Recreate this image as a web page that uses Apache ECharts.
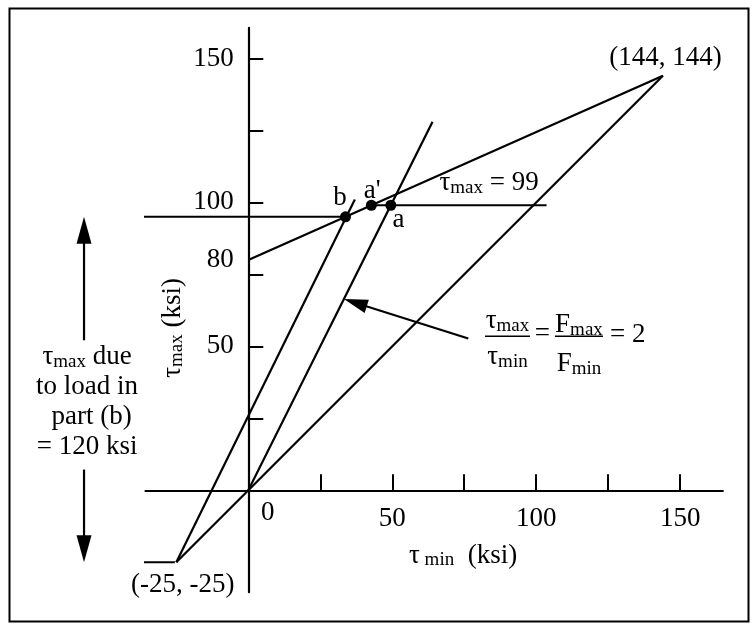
<!DOCTYPE html>
<html><head><meta charset="utf-8">
<script src="https://cdn.jsdelivr.net/npm/echarts@6/dist/echarts.min.js"></script>
<style>html,body{margin:0;padding:0;background:#fff}#c{width:753px;height:624px}</style>
</head><body><div id="c"></div>
<script>
// ---- axes ----
const xRange = [-35.7, 164.8];
const yRange = [-35.4, 160.6];
const xTicks = [25, 50, 75, 100, 125, 150];
const xTickLabels = [0, 50, 100, 150];
const yTicks = [25, 50, 75, 100, 125, 150];
const yTickLabels = [50, 80, 100, 150];

// ---- key points (tau_min, tau_max) ----
const pLow = [-25, -25];
const pHigh = [144, 144];
const pB = [33.75, 95];
const pA1 = [42.75, 99];   // a'
const pA = [49.5, 99];
const dots = [pB, pA1, pA];

// ---- line segments ----
const lineEqual = [pLow, pHigh];             // tau_max = tau_min
const lineGoodman = [[0, 80], pHigh];        // from 80 on the tau_max axis
const lineRatio2 = [[0, 0], [64, 128]];      // tau_max / tau_min = 2
const lineRatio2b = [pLow, [37, 101]];
const lineMax99 = [pA1, [103.6, 99]];
const lineMax95 = [[-60.8, 95], pB];
const lineMinus25 = [[-59.8, -25], [-25.5, -25]];

// ---- arrows [tailX, tailY, tipX, tipY] ----
const dimArrows = [[-57.05, 52.1, -57.05, 95], [-57.05, 7.2, -57.05, -25]];
const pointerArrows = [[76.4, 52.7, 33.2, 66.4]];

// ---- text annotations (anchor in data units) ----
const annotations = [
  {at: [144.9, 150.2], text: '{n|(144, 144)}'},
  {at: [-22.8, -32.9], text: '{n|(-25, -25)}'},
  {at: [31.85, 101.6], text: '{n|b}'},
  {at: [43.0, 104.0], text: "{n|a'}"},
  {at: [52.2, 93.9], text: '{n|a}'},
  {at: [66.4, 106.7], text: '{t|τ}{s|max}{n| = 99}', align: 'left'},
  {at: [74.6, -22.8], text: '{t|τ}{s| min}{n|  (ksi)}'},
  {at: [-26.15, 56.4], text: '{t|τ}{s|max}{n| (ksi)}', rotate: 90},
  {at: [-56.0, 30.7], text: '{T|τ}{S|max}{N| due}\n{N|to load in}\n{P|part (b)}\n{N|= 120 ksi}'}
];
const formulaAnchor = [[82.2, 53.5]];

const FONT = '"Liberation Serif", "Times New Roman", serif';
const FS = 27, SUB = 19;
function richSet(L) {
  return {
    n: {fontFamily: FONT, fontSize: FS, lineHeight: L, fill: '#000'},
    t: {fontFamily: FONT, fontSize: FS, lineHeight: L, fill: '#000'},
    s: {fontFamily: FONT, fontSize: SUB, lineHeight: L - 12, verticalAlign: 'bottom', fill: '#000'}
  };
}
const r28 = richSet(28), r30 = richSet(30);
const zrRich = Object.assign({}, r28, {
  N: r30.n, T: r30.t, S: r30.s,
  P: Object.assign({}, r30.n, {padding: [0, 0, 0, 9]})
});

// label list: annotations + tick labels placed from the axis values
const labelList = annotations.map(a => ({at: a.at, text: a.text, align: a.align || 'center',
                                          rotate: a.rotate || 0, dx: 0, dy: 0}))
  .concat(xTickLabels.map(v => ({at: [v, 0], text: '{n|' + v + '}', align: 'center',
                                  rotate: 0, dx: v === 0 ? 19.5 : 0, dy: v === 0 ? 23 : 28.5})))
  .concat(yTickLabels.map(v => ({at: [0, v], text: '{n|' + v + '}', align: 'right',
                                  rotate: 0, dx: -14.5, dy: 0})));

const lineStyle = {color: '#000', width: 2.2};
function seg(data) {
  return {type: 'line', data: data, symbol: 'none', clip: false, silent: true,
          lineStyle: lineStyle, z: 3};
}

function arrowRender(headLen, headW) {
  return function (params, api) {
    const a = api.coord([api.value(0), api.value(1)]);
    const b = api.coord([api.value(2), api.value(3)]);
    const dx = b[0] - a[0], dy = b[1] - a[1];
    const L = Math.hypot(dx, dy), ux = dx / L, uy = dy / L;
    const bx = b[0] - ux * headLen, by = b[1] - uy * headLen;
    const nx = -uy * headW / 2, ny = ux * headW / 2;
    return {type: 'group', children: [
      {type: 'line', shape: {x1: a[0], y1: a[1], x2: bx + ux * 3, y2: by + uy * 3},
       style: {stroke: '#000', lineWidth: 2.2}},
      {type: 'polygon', shape: {points: [[b[0], b[1]], [bx + nx, by + ny], [bx - nx, by - ny]]},
       style: {fill: '#000'}}
    ]};
  };
}

function textEl(x, y, s, align, rotate) {
  return {type: 'text', x: x, y: y, rotation: (rotate || 0) * Math.PI / 180,
    style: {text: s, rich: zrRich, fill: '#000', align: align || 'center', verticalAlign: 'middle',
            fontSize: FS, fontFamily: FONT}};
}

function formulaRender(params, api) {
  const p = api.coord([api.value(0), api.value(1)]);
  const txt = (x, y, s, align) => textEl(p[0] + x, p[1] + y, s, align);
  const bar = (x1, x2) => ({type: 'line', shape: {x1: p[0] + x1, y1: p[1], x2: p[0] + x2, y2: p[1]},
    style: {stroke: '#000', lineWidth: 1.3}});
  return {type: 'group', children: [
    bar(0, 45),
    txt(22.5, -15, '{t|τ}{s|max}'),
    txt(22.5, 21, '{t|τ}{s|min}'),
    txt(57.5, -2, '{n|=}'),
    bar(70, 118),
    txt(94, -11, '{n|F}{s|max}'),
    txt(94, 28, '{n|F}{s|min}'),
    txt(125, -1, '{n|= 2}', 'left')
  ]};
}

function labelRender(params, api) {
  const d = labelList[params.dataIndex];
  const p = api.coord([api.value(0), api.value(1)]);
  return textEl(p[0] + d.dx, p[1] + d.dy, d.text, d.align, d.rotate);
}

const option = {
  animation: false,
  backgroundColor: '#fff',
  grid: {left: 145.5, right: 30.2, top: 27.9, bottom: 31.8},
  xAxis: {
    type: 'value', min: xRange[0], max: xRange[1],
    axisLine: {onZero: true, lineStyle: {color: '#000', width: 2.2}},
    axisTick: {show: true, inside: true, length: 16, customValues: xTicks,
               lineStyle: {color: '#000', width: 2}},
    axisLabel: {show: false},
    splitLine: {show: false}
  },
  yAxis: {
    type: 'value', min: yRange[0], max: yRange[1],
    axisLine: {onZero: true, lineStyle: {color: '#000', width: 2.2}},
    axisTick: {show: true, inside: true, length: 15, customValues: yTicks,
               lineStyle: {color: '#000', width: 2}},
    axisLabel: {show: false},
    splitLine: {show: false}
  },
  graphic: [{
    type: 'rect', left: 7, top: 6, shape: {width: 739, height: 613},
    style: {fill: 'none', stroke: '#000', lineWidth: 2}, silent: true
  }],
  series: [
    seg(lineEqual), seg(lineGoodman), seg(lineRatio2), seg(lineRatio2b),
    seg(lineMax99), seg(lineMax95), seg(lineMinus25),
    {type: 'scatter', data: dots, symbolSize: 11, clip: false, silent: true,
     itemStyle: {color: '#000', opacity: 1}, z: 4},
    {type: 'custom', coordinateSystem: 'cartesian2d', clip: false, silent: true,
     data: dimArrows, renderItem: arrowRender(27, 15), z: 3},
    {type: 'custom', coordinateSystem: 'cartesian2d', clip: false, silent: true,
     data: pointerArrows, renderItem: arrowRender(24, 14), z: 3},
    {type: 'custom', coordinateSystem: 'cartesian2d', clip: false, silent: true,
     data: formulaAnchor, renderItem: formulaRender, z: 5},
    {type: 'custom', coordinateSystem: 'cartesian2d', clip: false, silent: true,
     data: labelList.map(d => d.at), renderItem: labelRender, z: 5}
  ]
};
const chart = echarts.init(document.getElementById('c'), null, {renderer: 'canvas'});
chart.setOption(option);
</script></body></html>
